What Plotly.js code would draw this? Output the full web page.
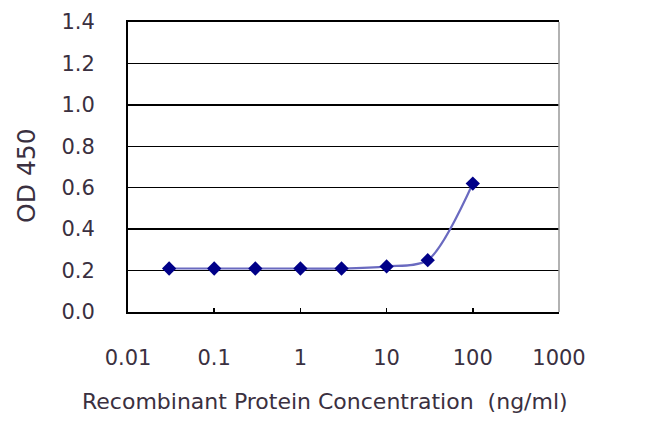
<!DOCTYPE html>
<html>
<head>
<meta charset="utf-8">
<script src="https://cdn.plot.ly/plotly-3.0.1.min.js"></script>
<style>html,body{margin:0;padding:0;background:#fff;}#chart{width:650px;height:433px;}</style>
</head>
<body>
<div id="chart"></div>
<script>
// Data
const concentrations = [0.03, 0.1, 0.3, 1, 3, 10, 30, 100];
const odValues = [0.21, 0.21, 0.21, 0.21, 0.21, 0.22, 0.25, 0.62];
const xTickVals = [0.01, 0.1, 1, 10, 100, 1000];
const xTickText = ["0.01", "0.1", "1", "10", "100", "1000"];
const yTickVals = [0, 0.2, 0.4, 0.6, 0.8, 1.0, 1.2, 1.4];
const yTickText = ["0.0", "0.2", "0.4", "0.6", "0.8", "1.0", "1.2", "1.4"];
const xTitle = "Recombinant Protein Concentration  (ng/ml)";
const yTitle = "OD 450";

const textColor = "#3a3040";
const fontFamily = "DejaVu Sans, Liberation Sans, Arial, sans-serif";

const trace = {
  x: concentrations,
  y: odValues,
  type: "scatter",
  mode: "lines+markers",
  line: {color: "#6a6ac0", width: 2.2, shape: "spline", smoothing: 0.8},
  marker: {symbol: "diamond", size: 11, color: "#000088"},
  hoverinfo: "x+y",
  cliponaxis: false
};

const layout = {
  width: 650,
  height: 433,
  margin: {l: 128, r: 91, t: 22, b: 121},
  paper_bgcolor: "#ffffff",
  plot_bgcolor: "#ffffff",
  showlegend: false,
  font: {family: fontFamily, color: textColor, size: 21},
  xaxis: {
    type: "log",
    range: [-2, 3],
    tickvals: xTickVals,
    ticktext: xTickText,
    ticks: "inside",
    ticklen: 4,
    tickwidth: 1.5,
    tickcolor: "#000",
    ticklabelstandoff: 26,
    showgrid: false,
    zeroline: false,
    showline: true,
    mirror: true,
    linecolor: "#000",
    linewidth: 2,
    tickfont: {size: 21, color: textColor, family: fontFamily}
  },
  yaxis: {
    range: [0, 1.4],
    tickvals: yTickVals,
    ticktext: yTickText,
    ticks: "",
    ticklabelstandoff: 27,
    showgrid: true,
    gridcolor: "#000",
    gridwidth: 1.5,
    zeroline: false,
    showline: true,
    linecolor: "#000",
    linewidth: 2,
    tickfont: {size: 21, color: textColor, family: fontFamily}
  },
  annotations: [
    {text: xTitle, xref: "paper", yref: "paper", x: 0.457, y: -0.31, xanchor: "center", yanchor: "middle",
     showarrow: false, font: {size: 22, color: textColor, family: fontFamily}},
    {text: yTitle, xref: "paper", yref: "paper", x: -0.237, y: 0.472, xanchor: "center", yanchor: "middle",
     textangle: -90, showarrow: false, font: {size: 25, color: textColor, family: fontFamily}}
  ],
  shapes: [
    {type: "line", xref: "paper", yref: "paper", x0: 1, x1: 1, y0: 0, y1: 1, line: {color: "#999", width: 1.5}}
  ]
};

Plotly.newPlot("chart", [trace], layout, {displayModeBar: false, staticPlot: true});
</script>
</body>
</html>
